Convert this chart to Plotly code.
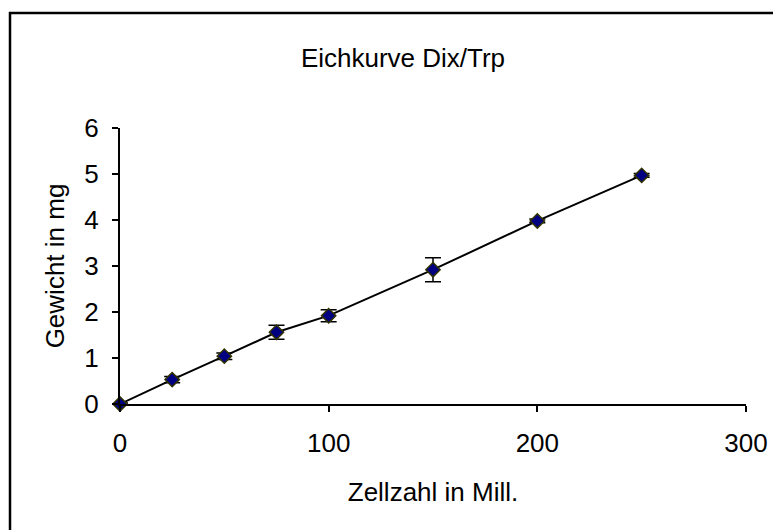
import plotly.graph_objects as go

zellzahl = [0, 25, 50, 75, 100, 150, 200, 250]
gewicht = [0.0, 0.53, 1.04, 1.56, 1.92, 2.92, 3.98, 4.97]
fehler = [0.02, 0.07, 0.07, 0.15, 0.13, 0.26, 0.04, 0.04]

x_ticks = [0, 100, 200, 300]
y_ticks = [0, 1, 2, 3, 4, 5, 6]

FONT = "Liberation Sans, Arial, sans-serif"
FS = 26

fig = go.Figure()
fig.add_trace(go.Scatter(
    x=zellzahl, y=gewicht, mode="lines+markers",
    line=dict(color="black", width=2),
    marker=dict(symbol="diamond", size=11, color="#000080",
                line=dict(color="#333300", width=1.5)),
    error_y=dict(type="data", array=fehler, visible=True,
                 color="black", thickness=1.5, width=8),
    cliponaxis=False, showlegend=False,
))

# page body adds an 8px offset; compensate
OFF = 8
W, H = 781, 530
L, T = 120 - OFF, 128 - OFF
R = W - (746 - OFF)
B = H - (404 - OFF)
pw, ph = W - L - R, H - T - B

def px_to_paper_x(px):
    return (px - OFF - L) / pw

def py_to_paper_y(py):
    return (H - B - (py - OFF)) / ph

fig.add_shape(type="rect", xref="paper", yref="paper",
              x0=px_to_paper_x(10), x1=px_to_paper_x(W + 20),
              y0=py_to_paper_y(H + 20), y1=py_to_paper_y(13),
              line=dict(color="black", width=2.5), fillcolor="rgba(0,0,0,0)",
              layer="below")

fig.update_layout(
    width=W, height=H,
    margin=dict(l=L, r=R, t=T, b=B),
    paper_bgcolor="white", plot_bgcolor="white",
    font=dict(family=FONT, size=FS, color="black"),
    title=dict(text="Eichkurve Dix/Trp", x=px_to_paper_x(403), xref="paper",
               xanchor="center", y=1 - (58 - OFF) / H, yanchor="middle",
               font=dict(family=FONT, size=FS, color="black")),
    xaxis=dict(range=[0, 300], tickvals=x_ticks, showgrid=False, zeroline=False,
               showline=True, linecolor="black", linewidth=2,
               ticks="outside", ticklen=6, tickwidth=2, tickcolor="black",
               ticklabelstandoff=9,
               title=dict(text="Zellzahl in Mill.", standoff=26,
                          font=dict(family=FONT, size=FS))),
    yaxis=dict(range=[0, 6], tickvals=y_ticks, showgrid=False, zeroline=False,
               showline=True, linecolor="black", linewidth=2,
               ticks="outside", ticklen=6, tickwidth=2, tickcolor="black",
               ticklabelstandoff=8,
               title=dict(text="Gewicht in mg", standoff=12,
                          font=dict(family=FONT, size=FS))),
)

fig.write_html("out.html")
